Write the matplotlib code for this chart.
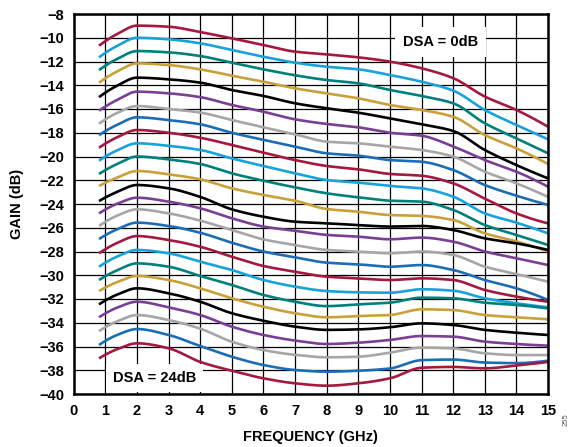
import numpy as np
import matplotlib
matplotlib.use("Agg")
import matplotlib.pyplot as plt

plt.rcParams['font.family'] = ['Liberation Sans', 'DejaVu Sans']

freq_ghz = [0.8, 1.4, 2, 3, 4, 5, 6, 7, 8, 9, 10, 11, 12, 13, 14, 15]

dsa_00 = [-10.67, -9.65, -8.98, -9.07, -9.52, -10.05, -10.61, -11.17, -11.40, -11.65, -12.01, -12.57, -13.40, -14.95, -16.08, -17.49]
dsa_01 = [-11.65, -10.65, -10.00, -10.13, -10.47, -11.03, -11.60, -12.10, -12.44, -12.66, -13.14, -13.70, -14.45, -16.08, -17.35, -18.55]
dsa_02 = [-12.72, -11.75, -11.12, -11.23, -11.54, -12.10, -12.66, -13.16, -13.56, -13.84, -14.40, -14.90, -15.52, -17.20, -18.47, -19.73]
dsa_03 = [-13.78, -12.80, -12.16, -12.30, -12.66, -13.20, -13.70, -14.26, -14.68, -15.10, -15.66, -16.08, -16.65, -18.19, -19.31, -20.63]
dsa_04 = [-15.00, -14.00, -13.36, -13.50, -13.78, -14.40, -14.90, -15.52, -15.94, -16.31, -16.79, -17.29, -17.85, -19.45, -20.72, -21.84]
dsa_05 = [-16.14, -15.20, -14.54, -14.68, -15.00, -15.66, -16.23, -16.87, -17.26, -17.54, -18.00, -18.25, -19.15, -20.30, -21.28, -22.54]
dsa_06 = [-17.24, -16.30, -15.75, -16.00, -16.30, -16.93, -17.54, -18.13, -18.75, -18.89, -19.17, -19.45, -20.01, -21.28, -22.26, -23.40]
dsa_07 = [-18.20, -17.30, -16.70, -16.93, -17.29, -18.00, -18.60, -19.17, -19.73, -19.93, -20.30, -20.44, -21.14, -22.40, -23.30, -24.08]
dsa_08 = [-19.26, -18.35, -17.77, -18.00, -18.42, -19.03, -19.68, -20.30, -20.80, -21.08, -21.47, -21.62, -22.26, -23.55, -24.79, -25.63]
dsa_09 = [-20.35, -19.45, -18.89, -19.10, -19.45, -20.16, -20.80, -21.42, -21.98, -22.20, -22.48, -22.68, -23.38, -24.79, -25.57, -26.47]
dsa_10 = [-21.47, -20.60, -20.00, -20.24, -20.63, -21.42, -22.04, -22.60, -23.10, -23.44, -23.72, -23.80, -24.50, -25.77, -26.61, -27.45]
dsa_11 = [-22.48, -21.75, -21.22, -21.50, -21.92, -22.68, -23.24, -23.72, -24.42, -24.65, -24.93, -25.00, -25.35, -26.47, -27.15, -28.00]
dsa_12 = [-23.75, -22.95, -22.40, -22.68, -23.40, -24.45, -25.07, -25.49, -25.63, -25.77, -25.90, -25.85, -26.19, -26.89, -27.31, -27.87]
dsa_13 = [-24.79, -23.95, -23.47, -23.80, -24.36, -25.20, -25.90, -26.25, -26.60, -26.75, -26.97, -26.83, -27.17, -28.00, -28.57, -29.14]
dsa_14 = [-25.85, -24.95, -24.45, -24.79, -25.40, -26.19, -26.98, -27.45, -27.87, -28.00, -28.15, -28.00, -28.29, -29.28, -29.90, -30.54]
dsa_15 = [-26.95, -26.10, -25.57, -25.85, -26.42, -27.26, -28.00, -28.49, -28.94, -29.08, -29.28, -29.14, -29.56, -30.40, -31.10, -32.08]
dsa_16 = [-28.15, -27.25, -26.70, -27.03, -27.60, -28.44, -29.22, -29.70, -30.12, -30.26, -30.40, -30.26, -30.40, -31.24, -31.80, -32.23]
dsa_17 = [-29.28, -28.40, -27.87, -28.15, -28.86, -29.56, -30.40, -30.96, -31.33, -31.44, -31.47, -31.18, -31.30, -31.94, -32.36, -32.70]
dsa_18 = [-30.40, -29.55, -29.00, -29.28, -30.06, -30.82, -31.66, -32.23, -32.60, -32.45, -32.31, -31.89, -31.94, -32.31, -32.50, -32.79]
dsa_19 = [-31.33, -30.55, -30.06, -30.40, -31.10, -31.94, -32.65, -33.20, -33.54, -33.43, -33.35, -32.87, -32.93, -33.35, -33.54, -33.71]
dsa_20 = [-32.45, -31.60, -31.10, -31.52, -32.23, -33.20, -33.83, -34.33, -34.60, -34.56, -34.38, -34.05, -34.19, -34.60, -34.84, -35.03]
dsa_21 = [-33.54, -32.70, -32.23, -32.70, -33.35, -34.33, -35.03, -35.50, -35.79, -35.68, -35.45, -35.12, -35.17, -35.59, -35.79, -35.93]
dsa_22 = [-34.70, -33.85, -33.35, -33.77, -34.50, -35.60, -36.30, -36.70, -36.91, -36.86, -36.52, -36.10, -36.16, -36.57, -36.72, -36.72]
dsa_23 = [-35.87, -35.00, -34.53, -35.03, -35.96, -36.86, -37.56, -37.98, -38.12, -38.04, -37.85, -37.15, -37.10, -37.35, -37.40, -37.20]
dsa_24 = [-37.00, -36.20, -35.73, -36.15, -37.30, -38.04, -38.68, -39.10, -39.30, -39.10, -38.68, -37.79, -37.72, -37.84, -37.60, -37.30]

series = [dsa_00, dsa_01, dsa_02, dsa_03, dsa_04, dsa_05, dsa_06, dsa_07, dsa_08,
          dsa_09, dsa_10, dsa_11, dsa_12, dsa_13, dsa_14, dsa_15, dsa_16, dsa_17,
          dsa_18, dsa_19, dsa_20, dsa_21, dsa_22, dsa_23, dsa_24]

palette = ['#A3193F', '#17A2DC', '#00807A', '#C9A03A', '#000000', '#7A3F93', '#A6A6A6', '#1B6DB5']

x_ticks = list(range(0, 16))
y_ticks = list(range(-40, -7, 2))


def pchip(x, y, xs):
    x = np.asarray(x, float)
    y = np.asarray(y, float)
    h = np.diff(x)
    d = np.diff(y) / h
    n = len(x)
    m = np.zeros(n)
    for k in range(1, n - 1):
        if d[k - 1] * d[k] <= 0:
            m[k] = 0.0
        else:
            w1 = 2 * h[k] + h[k - 1]
            w2 = h[k] + 2 * h[k - 1]
            m[k] = (w1 + w2) / (w1 / d[k - 1] + w2 / d[k])
    m[0] = ((2 * h[0] + h[1]) * d[0] - h[0] * d[1]) / (h[0] + h[1])
    if np.sign(m[0]) != np.sign(d[0]):
        m[0] = 0
    m[-1] = ((2 * h[-1] + h[-2]) * d[-1] - h[-1] * d[-2]) / (h[-1] + h[-2])
    if np.sign(m[-1]) != np.sign(d[-1]):
        m[-1] = 0
    idx = np.clip(np.searchsorted(x, xs) - 1, 0, n - 2)
    t = (xs - x[idx]) / h[idx]
    h00 = 2 * t**3 - 3 * t**2 + 1
    h10 = t**3 - 2 * t**2 + t
    h01 = -2 * t**3 + 3 * t**2
    h11 = t**3 - t**2
    return h00 * y[idx] + h10 * h[idx] * m[idx] + h01 * y[idx + 1] + h11 * h[idx] * m[idx + 1]


fig = plt.figure(figsize=(5.72, 4.47), dpi=100)
ax = fig.add_axes([73.7 / 572, 1 - 394 / 447, (548 - 73.7) / 572, (394 - 14) / 447])

xs = np.linspace(freq_ghz[0], freq_ghz[-1], 600)
for i, s in enumerate(series):
    ax.plot(xs, pchip(freq_ghz, s, xs), color=palette[i % len(palette)], lw=1.9,
            solid_capstyle='butt', zorder=3)

ax.set_xlim(0, 15)
ax.set_ylim(-40, -8)
ax.set_xticks(x_ticks)
ax.set_yticks(y_ticks)
ax.set_xticklabels([str(v) for v in x_ticks], fontweight='bold', fontsize=10.5)
ax.set_yticklabels([str(v).replace('-', '\u2212') for v in y_ticks], fontweight='bold', fontsize=10.5)
ax.tick_params(length=0, pad=7)
ax.grid(True, color='black', lw=0.9, zorder=1)
ax.set_axisbelow(True)
for sp in ax.spines.values():
    sp.set_linewidth(1.8)
    sp.set_zorder(5)

ax.set_xlabel('FREQUENCY (GHz)', fontweight='bold', fontsize=10.5)
ax.xaxis.set_label_coords(0.5, -0.095)
ax.set_ylabel('GAIN (dB)', fontweight='bold', fontsize=10.5)
ax.yaxis.set_label_coords(-0.105, 0.5)

ax.text(11.6, -10.35, 'DSA = 0dB', ha='center', va='center', fontsize=10.5, fontweight='bold',
        zorder=4, bbox=dict(facecolor='white', edgecolor='none', pad=6))
ax.text(2.55, -38.65, 'DSA = 24dB', ha='center', va='center', fontsize=10.5, fontweight='bold',
        zorder=4, bbox=dict(facecolor='white', edgecolor='none', pad=5))

fig.text(566 / 572, 1 - 420 / 447, '255', rotation=90, fontsize=5.5, color='#555555',
         ha='center', va='center')

fig.savefig('out.png', dpi=100)
